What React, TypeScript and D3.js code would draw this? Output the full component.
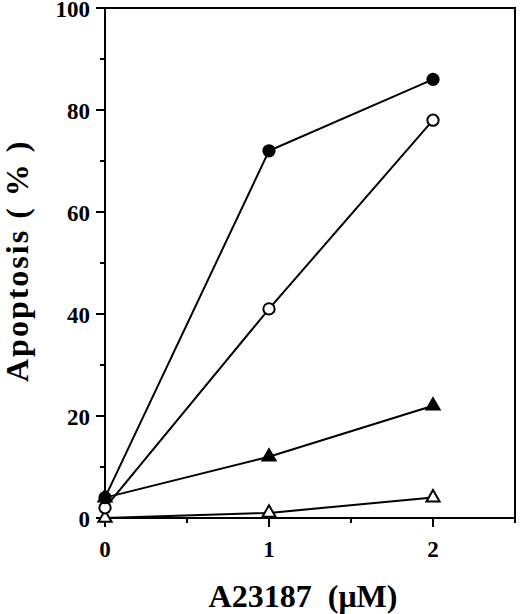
import * as d3 from 'd3';
import React from 'react';

// Apoptosis vs A23187 dose

const doses = [0, 1, 2];
const filledCircle = [4, 72, 86];
const openCircle = [2, 41, 78];
const filledTriangle = [4, 12, 22];
const openTriangle = [0, 1, 4];
const yTicks = [0, 20, 40, 60, 80, 100];
const yMinorTicks = [10, 30, 50, 70, 90];
const xTicks = [0, 1, 2];
const xMinorTicks = [0.5, 1.5, 2.5];

const width = 520;
const height = 614;
const left = 105;
const right = 515;
const top = 8;
const bottom = 518;

const xScale = d3.scaleLinear().domain([0, 2.5]).range([left, right]);
const yScale = d3.scaleLinear().domain([0, 100]).range([bottom, top]);

const series = [
    { name: 'filledTriangle', values: filledTriangle, shape: 'triangle', fill: '#000' },
    { name: 'openTriangle', values: openTriangle, shape: 'triangle', fill: '#fff' },
    { name: 'openCircle', values: openCircle, shape: 'circle', fill: '#fff' },
    { name: 'filledCircle', values: filledCircle, shape: 'circle', fill: '#000' },
];

const line = d3.line<number>()
    .x((_, i) => xScale(doses[i]))
    .y((d) => yScale(d));

const circleSym = d3.symbol().type(d3.symbolCircle).size(100);
const triSym = d3.symbol().type(d3.symbolTriangle).size(75);

export default () => {
    return (
        <svg width={width} height={height} style={{ position: 'absolute', left: 0, top: 0, background: '#fff' }}>
            <rect x={left} y={top} width={right - left} height={bottom - top} fill="none" stroke="#000" strokeWidth={2} />

            {/* y axis */}
            {yTicks.map((d) => (
                <g key={'y' + d}>
                    <line x1={left - 9} x2={left} y1={yScale(d)} y2={yScale(d)} stroke="#000" strokeWidth={2} />
                    <text x={left - 15} y={yScale(d) + 9} textAnchor="end" style={{ fontFamily: '"Liberation Serif"', fontWeight: 'bold', fontSize: 23 }}>{d}</text>
                </g>
            ))}
            {yMinorTicks.map((d) => (
                <line key={'ym' + d} x1={left - 5} x2={left} y1={yScale(d)} y2={yScale(d)} stroke="#000" strokeWidth={2} />
            ))}

            {/* x axis */}
            {xTicks.map((d) => (
                <g key={'x' + d}>
                    <line x1={xScale(d)} x2={xScale(d)} y1={bottom} y2={bottom + 9} stroke="#000" strokeWidth={2} />
                    <text x={xScale(d)} y={bottom + 39} textAnchor="middle" style={{ fontFamily: '"Liberation Serif"', fontWeight: 'bold', fontSize: 23 }}>{d}</text>
                </g>
            ))}
            {xMinorTicks.map((d) => (
                <line key={'xm' + d} x1={xScale(d)} x2={xScale(d)} y1={bottom} y2={bottom + 5} stroke="#000" strokeWidth={2} />
            ))}

            {/* titles */}
            <text x={303} y={607} textAnchor="middle" style={{ fontFamily: '"Liberation Serif"', fontWeight: 'bold', fontSize: 32 }}>
                A23187{'\u00a0\u00a0'}({'\u03bc'}M)
            </text>
            <text transform="translate(28,382) rotate(-90)" style={{ fontFamily: '"Liberation Serif"', fontWeight: 'bold', fontSize: 32, letterSpacing: 2 }}>
                Apoptosis{'\u00a0'}({'\u00a0'}%{'\u00a0'})
            </text>

            {/* lines */}
            {series.map((s) => (
                <path key={'l' + s.name} d={line(s.values) || ''} fill="none" stroke="#000" strokeWidth={2} />
            ))}

            {/* markers */}
            {series.map((s) => (
                <g key={'m' + s.name}>
                    {s.values.map((v, i) => (
                        <path
                            key={i}
                            transform={`translate(${xScale(doses[i])},${yScale(v)})`}
                            d={(s.shape === 'circle' ? circleSym() : triSym()) || ''}
                            fill={s.fill}
                            stroke="#000"
                            strokeWidth={2}
                        />
                    ))}
                </g>
            ))}
        </svg>
    );
};
